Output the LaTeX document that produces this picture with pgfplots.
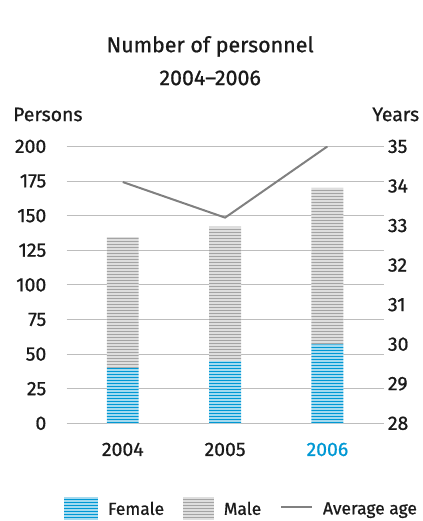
\documentclass[border=0pt]{standalone}
\usepackage{fontspec}
\setmainfont{Fira Sans}[FakeBold=0.8]
\usepackage{pgfplots}
\pgfplotsset{compat=1.18}
\usetikzlibrary{patterns}
\definecolor{fblue}{HTML}{0098D4}
\definecolor{mgray}{HTML}{A4A4A4}
\definecolor{agegray}{HTML}{808080}
\definecolor{gridgray}{HTML}{BDBDBD}
\definecolor{txt}{HTML}{1A1A1A}
\newcommand{\lbl}{\fontsize{19.5bp}{22bp}\selectfont}
\pgfdeclarepatternformonly{hstripes}{\pgfpoint{0bp}{0bp}}{\pgfpoint{120bp}{3.4bp}}{\pgfpoint{120bp}{3.4bp}}{%
  \pgfpathrectangle{\pgfpoint{-1bp}{0.6bp}}{\pgfpoint{122bp}{2.1bp}}\pgfusepath{fill}}
\tikzset{
  fstripes/.style={draw=none, fill=white, postaction={draw=none, pattern=hstripes, pattern color=fblue}},
  mstripes/.style={draw=none, fill=white, postaction={draw=none, pattern=hstripes, pattern color=mgray}},
}
\pgfplotsset{
  base/.style={
    scale only axis, width=319bp, height=278bp,
    xmin=-0.548, xmax=2.558,
    at={(67bp,96bp)}, anchor=south west,
    major tick length=0pt,
    tick label style={font=\lbl, text=txt},
    /pgf/number format/assume math mode=true,
  },
}
\begin{document}
\begin{tikzpicture}
\path (0,0) rectangle (424bp,521bp);
\begin{axis}[base,
  ybar stacked, bar width=32bp,
  ymin=0, ymax=200, ytick={0,25,...,200},
  axis line style={draw=none},
  ymajorgrids, grid style={gridgray, line width=1bp},
  xtick={0,1,2}, xticklabels={2004,2005,{\textcolor{fblue}{2006}}},
  xticklabel style={yshift=-16bp},
  yticklabel style={anchor=east, xshift=-17bp},
]
\addplot[fstripes] coordinates {(0,40) (1,45) (2,57)};
\addplot[mstripes] coordinates {(0,94.5) (1,97) (2,113)};
\end{axis}
\begin{axis}[base,
  ymin=28, ymax=35, ytick={28,...,35},
  axis x line=none, axis y line*=right,
  y axis line style={draw=none},
  yticklabel style={anchor=west, xshift=0bp},
  legend columns=3,
  legend style={draw=none, fill=none, font=\fontsize{17.5bp}{21bp}\selectfont, text=txt,
    at={(0.55,-0.306)}, anchor=center,
    /tikz/every odd column/.append style={column sep=8bp},
    /tikz/every even column/.append style={column sep=17bp}},
]
\addlegendimage{legend image code/.code={%
  \fill[white, draw=none] (0bp,-10bp) rectangle (34bp,12bp);
  \path[draw=none, pattern=hstripes, pattern color=fblue] (0bp,-10bp) rectangle (34bp,12bp);}}
\addlegendentry{Female}
\addlegendimage{legend image code/.code={%
  \fill[white, draw=none] (0bp,-10bp) rectangle (31bp,12bp);
  \path[draw=none, pattern=hstripes, pattern color=mgray] (0bp,-10bp) rectangle (31bp,12bp);}}
\addlegendentry{Male}
\addplot[agegray, line width=2bp, legend image code/.code={\draw[agegray, line width=2bp] (0bp,2bp) -- (31bp,2bp);}] coordinates {(0,34.1) (1,33.2) (2,35)};
\addlegendentry{Average age}
\end{axis}
\node[font=\fontsize{21.5bp}{33bp}\selectfont, text=txt, align=center] at (211bp,460bp) {Number of personnel\\2004–2006};
\node[font=\lbl, text=txt, anchor=west, inner sep=0pt] at (13bp,406bp) {Persons};
\node[font=\lbl, text=txt, anchor=east, inner sep=0pt] at (421bp,406bp) {Years};
\end{tikzpicture}
\end{document}
